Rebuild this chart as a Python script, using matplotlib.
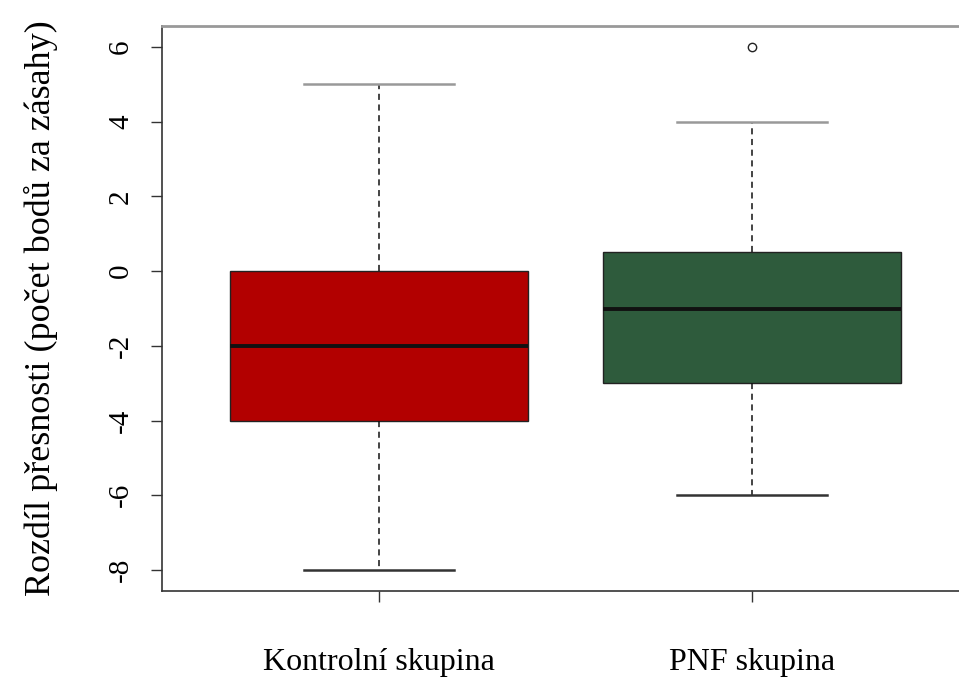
import matplotlib
matplotlib.use("Agg")
import matplotlib.pyplot as plt

# Data
groups = ["Kontrolní skupina", "PNF skupina"]
whisker_low = [-8, -6]
q1 = [-4, -3]
medians = [-2, -1]
q3 = [0, 0.5]
whisker_high = [5, 4]
outliers = [[], [6]]
colors = ["#B20000", "#2E5B3C"]
yticks = [-8, -6, -4, -2, 0, 2, 4, 6]
ylabel = "Rozdíl přesnosti (počet bodů za zásahy)"

plt.rcParams['font.family'] = ['Liberation Serif', 'DejaVu Serif']

fig = plt.figure(figsize=(9.59, 6.77), dpi=100)
ax = fig.add_axes([162/959, 1 - 591/677, 1.0 - 162/959 + 0.01, (591 - 26)/677])

stats = []
for i, g in enumerate(groups):
    stats.append(dict(label=g, whislo=whisker_low[i], q1=q1[i], med=medians[i],
                      q3=q3[i], whishi=whisker_high[i], fliers=outliers[i]))

positions = [1, 2]
bp = ax.bxp(stats, positions=positions, widths=0.8, patch_artist=True,
            showfliers=True,
            boxprops=dict(edgecolor="#222222", linewidth=1.0),
            medianprops=dict(color="#111111", linewidth=2.8),
            whiskerprops=dict(color="#111111", linewidth=1.1, linestyle=(0, (4, 3))),
            capprops=dict(color="#333333", linewidth=1.8),
            flierprops=dict(marker="o", markerfacecolor="white", markeredgecolor="#222222",
                            markersize=6, markeredgewidth=1.0))
for patch, c in zip(bp["boxes"], colors):
    patch.set_facecolor(c)
# caps: [low1, high1, low2, high2]; upper caps appear gray
for j, cap in enumerate(bp["caps"]):
    if j % 2 == 1:
        cap.set_color("#999999")

ax.set_ylim(-8.56, 6.56)
ax.set_xlim(0.418, 2.555 + 0.01 * 959 / 373)

ax.set_yticks(yticks)
ax.set_yticklabels([str(t) for t in yticks], rotation=90, va="center", fontsize=21)
ax.tick_params(axis="y", length=8, width=1.0, color="#333333", pad=12)
ax.set_xticks(positions)
ax.set_xticklabels(groups, fontsize=23)
ax.tick_params(axis="x", length=8, width=1.0, color="#333333", pad=33)

ax.set_ylabel(ylabel, fontsize=26, labelpad=36)

ax.spines["right"].set_visible(False)
ax.spines["top"].set_color("#999999")
ax.spines["top"].set_linewidth(2.0)
ax.spines["left"].set_color("#333333")
ax.spines["bottom"].set_color("#333333")
ax.spines["left"].set_linewidth(1.2)
ax.spines["bottom"].set_linewidth(1.2)

fig.savefig("out.png", dpi=100)
